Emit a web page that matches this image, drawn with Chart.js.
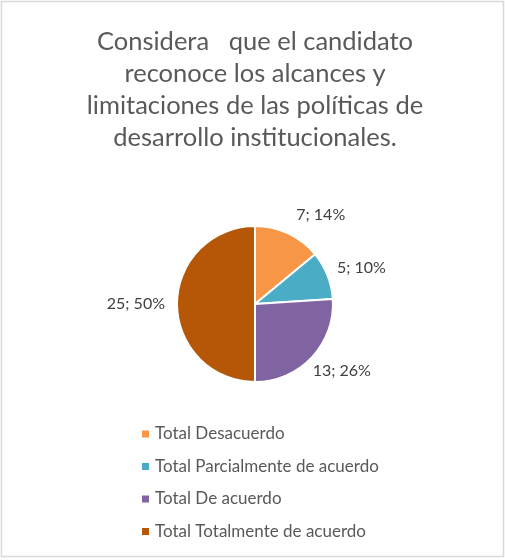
<!DOCTYPE html>
<html>
<head>
<meta charset="utf-8">
<script src="https://cdn.jsdelivr.net/npm/chart.js@4"></script>
<style>
  html, body { margin: 0; padding: 0; background: #fff; }
  #wrap { position: relative; width: 505px; height: 560px; }
</style>
</head>
<body>
<div id="wrap"><canvas id="chart" width="505" height="560"></canvas></div>
<script>
"use strict";

var titleLines = [
  "Considera   que el candidato",
  "reconoce los alcances y",
  "limitaciones de las políticas de",
  "desarrollo institucionales."
];
var categories = [
  "Total Desacuerdo",
  "Total Parcialmente de acuerdo",
  "Total De acuerdo",
  "Total Totalmente de acuerdo"
];
var counts = [7, 5, 13, 25];
var percents = [14, 10, 26, 50];
var sliceColors = ["#F79646", "#4BACC6", "#8064A2", "#B65708"];
// small nudges, like the ones the original label layout applied
var labelNudge = [[17, 0], [0, 0], [0, 0], [0, 0]];

var FONT = "Lato, 'Liberation Sans', sans-serif";

var pieLabels = {
  id: "pieLabels",
  afterDatasetsDraw: function(chart) {
    var ctx = chart.ctx;
    var arcs = chart.getDatasetMeta(0).data;
    ctx.save();
    ctx.font = "16px " + FONT;
    ctx.fillStyle = "#404040";
    ctx.textAlign = "center";
    ctx.textBaseline = "middle";
    arcs.forEach(function(arc, i) {
      var mid = (arc.startAngle + arc.endAngle) / 2;
      var text = counts[i] + "; " + percents[i] + "%";
      var w = ctx.measureText(text).width;
      var h = 16;
      var d = arc.outerRadius + 12;
      var dx = Math.cos(mid), dy = Math.sin(mid);
      var x = arc.x + dx * d + dx * w / 2 + labelNudge[i][0];
      var y = arc.y + dy * d + dy * h / 2 + labelNudge[i][1];
      ctx.fillText(text, x, y);
    });
    ctx.restore();
  }
};

var sideLegend = {
  id: "sideLegend",
  afterDraw: function(chart) {
    var ctx = chart.ctx;
    ctx.save();
    ctx.font = "17px " + FONT;
    ctx.textBaseline = "middle";
    ctx.textAlign = "left";
    categories.forEach(function(name, i) {
      var y = 434 + i * 32.5;
      ctx.fillStyle = sliceColors[i];
      ctx.fillRect(142, y - 3.5, 7, 7);
      ctx.fillStyle = "#595959";
      ctx.fillText(name, 155, y);
    });
    // outer frame
    ctx.strokeStyle = "#D9D9D9";
    ctx.lineWidth = 1.5;
    ctx.strokeRect(1.5, 1.5, 502, 555);
    ctx.restore();
  }
};

new Chart(document.getElementById("chart").getContext("2d"), {
  type: "pie",
  data: {
    labels: categories,
    datasets: [
      {
        data: counts,
        backgroundColor: sliceColors,
        borderColor: "#FFFFFF",
        borderWidth: 2
      }
    ]
  },
  options: {
    responsive: false,
    animation: false,
    layout: { padding: { top: 0, left: 5, right: 0, bottom: 177 } },
    plugins: {
      legend: { display: false },
      tooltip: { enabled: false },
      title: {
        display: true,
        text: titleLines,
        color: "#595959",
        font: { family: FONT, size: 25.5, weight: "normal", lineHeight: 1.255 },
        padding: { top: 26, bottom: 71 }
      }
    }
  },
  plugins: [pieLabels, sideLegend]
});
</script>
</body>
</html>
